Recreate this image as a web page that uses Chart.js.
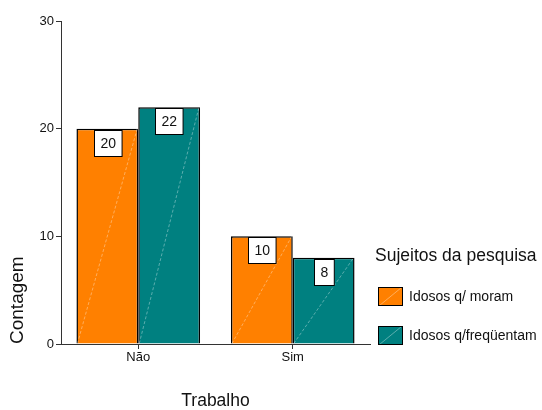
<!DOCTYPE html>
<html>
<head>
<meta charset="utf-8">
<script src="https://cdn.jsdelivr.net/npm/chart.js@4/dist/chart.umd.min.js"></script>
<style>
  html, body { margin: 0; padding: 0; background: #fff; }
</style>
</head>
<body>
<canvas id="grafico" width="542" height="410"></canvas>
<script>
const categorias = ["Não", "Sim"];
const idososMoram = [20, 10];
const idososFrequentam = [22, 8];
const nomesSeries = ["Idosos q/ moram", "Idosos q/freqüentam"];
const coresSeries = ["#ff8000", "#008080"];
const ticksY = [0, 10, 20, 30];

const FONTE = "Arial, 'Liberation Sans', sans-serif";

// linha diagonal clara dentro de cada barra + caixa com o valor
const detalhesBarras = {
  id: "detalhesBarras",
  afterDatasetsDraw(chart) {
    const ctx = chart.ctx;
    ctx.save();
    chart.data.datasets.forEach((ds, i) => {
      chart.getDatasetMeta(i).data.forEach(bar => {
        const p = bar.getProps(["x", "y", "base", "width"], true);
        ctx.beginPath();
        ctx.setLineDash([3, 2]);
        ctx.strokeStyle = "rgba(255,255,255,0.45)";
        ctx.lineWidth = 0.8;
        ctx.moveTo(p.x - p.width / 2 + 1, p.base);
        ctx.lineTo(p.x + p.width / 2 - 1, p.y);
        ctx.stroke();
        ctx.setLineDash([]);
      });
    });
    chart.data.datasets.forEach((ds, i) => {
      chart.getDatasetMeta(i).data.forEach((bar, j) => {
        const p = bar.getProps(["x", "y"], true);
        const txt = String(ds.data[j]);
        ctx.font = "14px " + FONTE;
        const w = ctx.measureText(txt).width + 12;
        const h = 26;
        const x0 = Math.round(p.x - w / 2) + 0.5;
        const y0 = Math.round(p.y + 1) + 0.5;
        ctx.fillStyle = "#fff";
        ctx.fillRect(x0, y0, w, h);
        ctx.strokeStyle = "#000";
        ctx.lineWidth = 1;
        ctx.strokeRect(x0, y0, w, h);
        ctx.fillStyle = "#111";
        ctx.textAlign = "center";
        ctx.textBaseline = "middle";
        ctx.fillText(txt, x0 + w / 2, y0 + h / 2 + 1);
      });
    });
    ctx.restore();
  }
};

// legenda à direita com título
const legendaLateral = {
  id: "legendaLateral",
  afterDraw(chart) {
    const ctx = chart.ctx;
    ctx.save();
    ctx.fillStyle = "#111";
    ctx.textAlign = "left";
    ctx.textBaseline = "middle";
    ctx.font = "17.5px " + FONTE;
    ctx.fillText("Sujeitos da pesquisa", 375, 256);
    chart.data.datasets.forEach((ds, i) => {
      const bx = 378.5, by = 287.5 + i * 39, bw = 24, bh = 18;
      ctx.fillStyle = ds.backgroundColor;
      ctx.fillRect(bx, by, bw, bh);
      ctx.beginPath();
      ctx.strokeStyle = "rgba(255,255,255,0.45)";
      ctx.lineWidth = 0.8;
      ctx.moveTo(bx + 1, by + bh);
      ctx.lineTo(bx + bw - 1, by);
      ctx.stroke();
      ctx.strokeStyle = "#000";
      ctx.lineWidth = 1;
      ctx.strokeRect(bx, by, bw, bh);
      ctx.fillStyle = "#111";
      ctx.font = "14px " + FONTE;
      ctx.fillText(ds.label, 409, by + bh / 2 + 1);
    });
    ctx.restore();
  }
};

new Chart(document.getElementById("grafico"), {
  type: "bar",
  data: {
    labels: categorias,
    datasets: [
      { label: nomesSeries[0], data: idososMoram, backgroundColor: coresSeries[0] },
      { label: nomesSeries[1], data: idososFrequentam, backgroundColor: coresSeries[1] }
    ]
  },
  options: {
    responsive: false,
    animation: false,
    layout: { padding: { top: 21, right: 172, left: 0, bottom: 0 } },
    datasets: {
      bar: {
        categoryPercentage: 0.8,
        barPercentage: 1.0,
        borderColor: "#000",
        borderWidth: 1.5
      }
    },
    plugins: {
      legend: { display: false },
      tooltip: { enabled: false }
    },
    scales: {
      x: {
        afterFit(scale) { scale.height = 66; },
        grid: {
          offset: false,
          drawOnChartArea: false,
          drawTicks: true,
          tickLength: 5,
          color: "#333"
        },
        border: { display: true, color: "#333", width: 1 },
        ticks: { color: "#111", padding: 1, font: { family: FONTE, size: 13 } },
        title: {
          display: true,
          text: "Trabalho",
          color: "#111",
          padding: { top: 0, bottom: 0 },
          font: { family: FONTE, size: 17.5, lineHeight: 1 }
        }
      },
      y: {
        min: 0,
        max: 30,
        afterFit(scale) { scale.width = 61; },
        afterBuildTicks(scale) { scale.ticks = ticksY.map(v => ({ value: v })); },
        grid: {
          drawOnChartArea: false,
          drawTicks: true,
          tickLength: 5,
          color: "#333"
        },
        border: { display: true, color: "#333", width: 1 },
        ticks: { color: "#111", padding: 2, font: { family: FONTE, size: 13 } },
        title: {
          display: true,
          text: "Contagem",
          align: "start",
          color: "#111",
          padding: { top: 6, bottom: 0 },
          font: { family: FONTE, size: 19, lineHeight: 1.2 }
        }
      }
    }
  },
  plugins: [detalhesBarras, legendaLateral]
});
</script>
</body>
</html>
